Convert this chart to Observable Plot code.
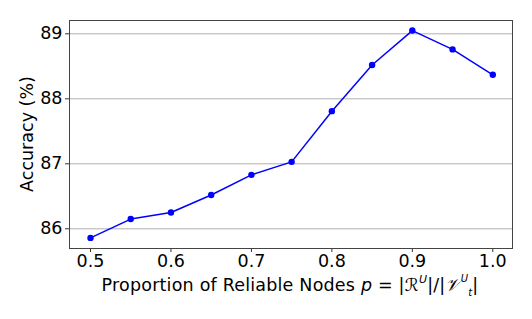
<!DOCTYPE html>
<html><head><meta charset="utf-8">
<script src="https://cdn.jsdelivr.net/npm/d3@7"></script>
<script src="https://cdn.jsdelivr.net/npm/@observablehq/plot@0.6"></script>
<style>body{margin:0;background:#fff}</style>
</head><body><div id="chart"></div>
<script>
const proportions = [0.5, 0.55, 0.6, 0.65, 0.7, 0.75, 0.8, 0.85, 0.9, 0.95, 1.0];
const accuracy = [85.86, 86.15, 86.25, 86.52, 86.83, 87.03, 87.81, 88.52, 89.05, 88.76, 88.37];
const xTicks = [0.5, 0.6, 0.7, 0.8, 0.9, 1.0];
const yTicks = [86, 87, 88, 89];

const data = proportions.map((p, i) => ({p, acc: accuracy[i]}));
const FS = 17.5;

const chart = Plot.plot({
  width: 532, height: 319,
  marginLeft: 69, marginRight: 20, marginTop: 20, marginBottom: 71,
  style: {fontFamily: "DejaVu Sans", fontSize: FS + "px", color: "#000", background: "#fff"},
  x: {domain: [0.4739, 1.0245]},
  y: {domain: [85.697, 89.205]},
  marks: [
    Plot.gridY(yTicks, {stroke: "#b0b0b0", strokeOpacity: 1, strokeWidth: 1}),
    Plot.axisX(xTicks, {tickFormat: d3.format(".1f"), tickSize: 4, tickPadding: 2, fontSize: FS, label: null, stroke: "#333"}),
    Plot.axisY(yTicks, {tickFormat: d => String(d), tickSize: 4, tickPadding: 3, fontSize: FS, label: null, stroke: "#333"}),
    Plot.line(data, {x: "p", y: "acc", stroke: "#0000ff", strokeWidth: 1.5}),
    Plot.dot(data, {x: "p", y: "acc", fill: "#0000ff", r: 3.2}),
    Plot.frame({stroke: "#444", strokeWidth: 1})
  ]
});
document.getElementById("chart").appendChild(chart);

const svg = d3.select(chart);
svg.append("text")
  .attr("transform", "translate(28,134) rotate(-90)")
  .attr("text-anchor", "middle")
  .attr("font-family", "DejaVu Sans")
  .attr("font-size", FS)
  .attr("dominant-baseline", "middle")
  .text("Accuracy (%)");

const xl = svg.append("text")
  .attr("x", 290).attr("y", 291)
  .attr("text-anchor", "middle")
  .attr("font-family", "DejaVu Sans")
  .attr("font-size", FS)
  .attr("letter-spacing", 0.2);
xl.append("tspan").text("Proportion of Reliable Nodes ");
xl.append("tspan").attr("font-style", "italic").text("p");
xl.append("tspan").text(" = |");
xl.append("tspan").attr("font-style", "italic").text("ℛ");
xl.append("tspan").attr("font-size", 11).attr("dy", -8).attr("font-style", "italic").text("U");
xl.append("tspan").attr("dy", 8).text("|/|");
xl.append("tspan").attr("font-style", "italic").text("𝒱");
xl.append("tspan").attr("font-size", 10).attr("dy", -9).attr("font-style", "italic").text("U");
xl.append("tspan").attr("font-size", 10).attr("dy", 14).attr("font-style", "italic").text("t");
xl.append("tspan").attr("dy", -5).text("|");
</script>
</body></html>
